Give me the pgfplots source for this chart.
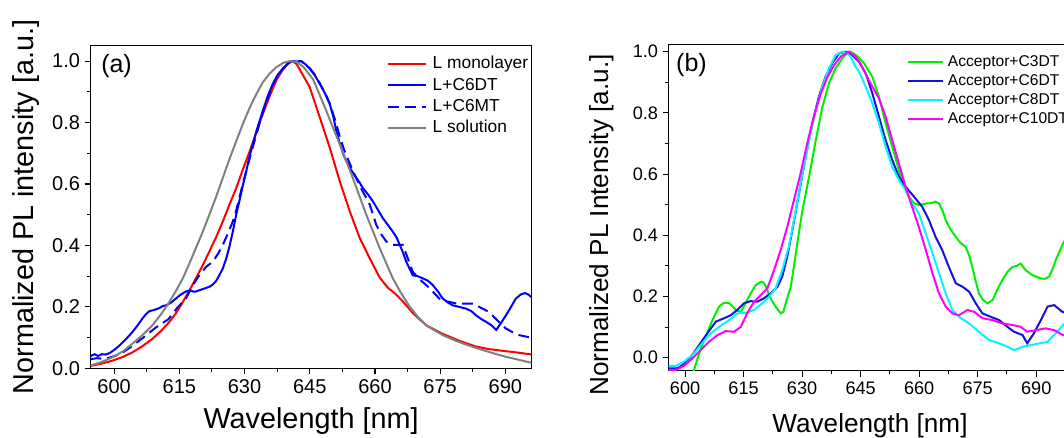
\documentclass[border=0pt]{standalone}
\usepackage{fontspec}
\setmainfont{Liberation Sans}
\usepackage{pgfplots}
\pgfplotsset{compat=1.18}
\definecolor{cgray}{RGB}{128,128,128}
\definecolor{cgreen}{RGB}{0,240,0}
\definecolor{cblue}{RGB}{20,20,215}
\definecolor{ccyan}{RGB}{0,245,255}
\definecolor{cmag}{RGB}{255,0,255}
\pgfplotsset{
 pl/.style={scale only axis, axis line style={line width=0.8pt}, tick pos=left, tick align=outside,
  major tick length=4.5pt, minor tick length=2.5pt, tick style={line width=0.8pt, black},
  /pgf/number format/assume math mode=true,
  yticklabel style={/pgf/number format/fixed,/pgf/number format/fixed zerofill,/pgf/number format/precision=1},
  xtick={600,615,...,690}, minor xtick={592.5,607.5,...,697.5},
  ytick={0,0.2,...,1.0}, minor ytick={0.1,0.3,...,0.9},
  legend cell align=left, clip=true},
}
\begin{document}
\begin{tikzpicture}
\useasboundingbox (0,0) rectangle (798pt,327.75pt);
\clip (0,0) rectangle (798pt,327.75pt);
% ---------------- panel (a)
\begin{axis}[pl, at={(68.0pt,51.5pt)}, anchor=south west, width=330.6pt, height=241.95pt,
 xmin=594.6, xmax=696, ymin=0, ymax=1.05,
 tick label style={font=\fontsize{15}{18}\selectfont},
 xlabel={Wavelength [nm]}, ylabel={Normalized PL intensity [a.u.]},
 label style={font=\fontsize{21.6}{26}\selectfont},
 xlabel style={at={(axis description cs:0.5,0)}, anchor=base, yshift=-45pt},
 ylabel style={at={(axis description cs:-0.1302,0.5)}, anchor=base},
 legend style={at={(axis description cs:0.6729,0.9702)}, anchor=north west, draw=none, fill=none,
  inner sep=0pt, outer sep=0pt, font=\fontsize{13}{15}\selectfont, row sep=3pt, column sep=4.3pt,
  nodes={inner sep=0pt, text height=10pt, text depth=3pt}},
 legend image code/.code={\draw[#1, line width=1.5pt] (0pt,0pt) -- (28.3pt,0pt);},
]
\addplot[red, line width=1.5pt] coordinates {
(594.6,0.008) (597,0.015) (599.6,0.025) (602,0.037) (604.2,0.052) (606.5,0.072) (608.8,0.096)
(610.8,0.122) (612.7,0.151) (614.3,0.181) (615.8,0.216) (617.3,0.253) (618.8,0.293) (620.4,0.336)
(621.9,0.380) (623.5,0.428) (625.0,0.478) (626.5,0.532) (628.1,0.587) (629.6,0.647) (631.2,0.707)
(632.7,0.768) (634.2,0.828) (635.8,0.887) (637.3,0.937) (638.8,0.972) (640.0,0.993) (641.0,1.0)
(642.0,0.99) (643.0,0.965) (645.0,0.915) (647.3,0.817) (649.6,0.718) (651.9,0.609) (654.2,0.511)
(656.5,0.424) (658.8,0.358) (661.1,0.295) (663.0,0.262) (664.5,0.245) (666.4,0.218) (668.7,0.18)
(671.8,0.14) (675.6,0.112) (679.5,0.089) (683,0.072) (686,0.063) (690,0.056) (693,0.051) (696,0.045)};
\addlegendentry{L monolayer}
\addplot[blue, line width=1.5pt] coordinates {
(594.6,0.040) (595.5,0.046) (596.3,0.040) (597.2,0.046) (598.1,0.045) (599.0,0.050) (600.2,0.062)
(601.2,0.074) (602.7,0.095) (604.2,0.118) (605.4,0.140) (606.5,0.162) (607.3,0.176) (608.1,0.186)
(609.2,0.190) (610.4,0.196) (611.2,0.203) (611.9,0.205) (613.0,0.213) (614.2,0.227) (615.3,0.240)
(616.5,0.250) (617.5,0.254) (618.2,0.250) (618.8,0.250) (620.0,0.256) (621.2,0.262) (622.0,0.266)
(622.7,0.273) (623.5,0.285) (624.2,0.303) (625.0,0.325) (625.8,0.358) (626.5,0.395) (627.3,0.445)
(628.0,0.495) (628.8,0.544) (629.6,0.595) (630.4,0.642) (631.1,0.688) (631.9,0.729) (633.0,0.785)
(634.2,0.838) (635.3,0.885) (636.5,0.926) (637.6,0.955) (638.8,0.975) (640.0,0.992) (641.0,1.0)
(642.0,0.998) (643.0,1.0) (644.0,0.99) (645.0,0.975) (646.2,0.953) (647.3,0.926) (648.5,0.895)
(649.6,0.860) (650.4,0.820) (651.1,0.773) (651.9,0.733) (652.7,0.697) (653.5,0.672) (654.2,0.653)
(655.0,0.635) (655.7,0.620) (656.5,0.604) (657.2,0.587) (658.4,0.566) (659.5,0.544) (660.6,0.518)
(661.8,0.489) (663.0,0.466) (664.1,0.445) (665.0,0.425) (665.7,0.402) (666.5,0.375) (667.2,0.347)
(668.0,0.323) (668.7,0.303) (669.8,0.300) (671.0,0.293) (672.2,0.285) (673.3,0.271) (674.5,0.250)
(675.6,0.227) (676.8,0.214) (677.9,0.205) (679.4,0.200) (681.0,0.194) (682.2,0.186) (683.3,0.172)
(684.5,0.160) (685.6,0.151) (686.8,0.140) (687.9,0.125) (689.0,0.148) (690.1,0.172) (691.3,0.200)
(692.4,0.227) (693.5,0.240) (694.5,0.245) (695.3,0.240) (696.0,0.232)};
\addlegendentry{L+C6DT}
\addplot[blue, line width=1.5pt, dash pattern=on 8pt off 4.5pt] coordinates {
(594.6,0.030) (596,0.033) (597.5,0.031) (599,0.035) (600.5,0.042) (602,0.052) (603.5,0.066)
(605,0.082) (606.5,0.098) (608,0.115) (609.5,0.132) (611.2,0.148) (612.5,0.160) (614.4,0.195)
(616.5,0.227) (618.3,0.275) (619.6,0.303) (621.2,0.331) (622.7,0.347) (624,0.375) (625.0,0.402)
(626.2,0.440) (627.3,0.478) (628.1,0.515) (628.8,0.555) (629.6,0.600) (630.4,0.642) (631.5,0.700)
(632.5,0.750) (633.5,0.800) (634.5,0.845) (635.5,0.885) (636.5,0.922) (637.6,0.953) (638.8,0.975)
(640.0,0.992) (641.0,1.0) (642.0,0.998) (643.0,1.0) (644.0,0.99) (645.0,0.977) (646.2,0.955)
(647.3,0.928) (648.5,0.897) (649.6,0.862) (650.8,0.810) (651.9,0.755) (652.8,0.715) (653.8,0.680)
(655.0,0.640) (656.0,0.610) (657.0,0.580) (658.0,0.555) (658.8,0.533) (660.3,0.467) (661.5,0.435)
(662.6,0.413) (664.1,0.402) (665.2,0.402) (666.4,0.402) (667.5,0.360) (668.7,0.314) (670.2,0.290)
(671.8,0.271) (673.3,0.250) (674.8,0.227) (676.5,0.218) (678.7,0.211) (680.5,0.211) (682.5,0.211)
(684.4,0.197) (686.3,0.183) (687.5,0.165) (688.6,0.150) (690.1,0.130) (691.7,0.117) (693.2,0.108)
(694.5,0.104) (696,0.100)};
\addlegendentry{L+C6MT}
\addplot[cgray, line width=1.5pt] coordinates {
(594.6,0.009) (597,0.02) (599.6,0.036) (602,0.055) (604.2,0.080) (606.5,0.108) (608.8,0.140)
(610.8,0.176) (612.7,0.216) (614.3,0.254) (615.8,0.293) (617.3,0.341) (618.8,0.391) (620.4,0.445)
(621.9,0.500) (623.5,0.560) (625.0,0.620) (626.5,0.680) (628.1,0.740) (629.6,0.795) (631.2,0.849)
(632.7,0.892) (634.2,0.931) (635.8,0.960) (637.3,0.980) (639,0.995) (640.5,1.0) (642,0.997)
(643.5,0.982) (645.8,0.94) (648.8,0.838) (651.9,0.729) (654.9,0.620) (658.0,0.500) (661.1,0.391)
(664.1,0.293) (666,0.245) (668.0,0.200) (670,0.165) (672,0.138) (675.6,0.108) (678,0.093)
(681,0.077) (684,0.063) (687,0.050) (690,0.038) (693,0.028) (696,0.018)};
\addlegendentry{L solution}
\node[anchor=west, inner sep=0pt, font=\fontsize{18.75}{22}\selectfont] at (axis description cs:0.0234,0.9386) {(a)};
\end{axis}
% ---------------- panel (b)
\begin{axis}[pl, at={(501.5pt,49.7pt)}, anchor=south west, width=302.0pt, height=245.0pt,
 xmin=595.8, xmax=699, ymin=-0.0425, ymax=1.025,
 tick label style={font=\fontsize{13.6}{16}\selectfont},
 xlabel={Wavelength [nm]}, ylabel={Normalized PL Intensity [a.u.]},
 label style={font=\fontsize{19.6}{24}\selectfont},
 xlabel style={at={(axis description cs:0.5,0)}, anchor=base, yshift=-46pt},
 ylabel style={at={(axis description cs:-0.1500,0.446)}, anchor=base},
 legend style={at={(axis description cs:0.5925,0.9678)}, anchor=north west, draw=none, fill=none,
  inner sep=0pt, outer sep=0pt, font=\fontsize{11.7}{14}\selectfont, row sep=2.55pt, column sep=3.2pt,
  nodes={inner sep=0pt, text height=9pt, text depth=2.7pt}},
 legend image code/.code={\draw[#1, line width=1.5pt] (0pt,0pt) -- (25.8pt,0pt);},
]
\addplot[cgreen, line width=1.5pt] coordinates {
(601.0,-0.09) (602.3,-0.040) (603.6,0.014) (605.3,0.069) (607.0,0.123) (608.7,0.167) (610.0,0.180)
(611.3,0.178) (612.2,0.168) (613.0,0.156) (614.3,0.150) (615.5,0.178) (616.8,0.210) (618.1,0.237)
(619.4,0.248) (620.2,0.245) (621.0,0.225) (621.5,0.205) (622.3,0.185) (623.2,0.167) (624.5,0.145)
(625.2,0.150) (625.8,0.178) (627.1,0.232) (627.8,0.290) (628.4,0.341) (629.2,0.410) (630.1,0.483)
(631.8,0.592) (633.5,0.711) (635.2,0.820) (636.9,0.897) (638.6,0.946) (640.3,0.978) (641.5,0.995)
(642.4,1.0) (643.3,0.993) (644.2,0.985) (645.9,0.962) (648.0,0.918) (649.7,0.853) (651.4,0.766)
(653.1,0.690) (654.8,0.613) (656.0,0.565) (657.4,0.526) (658.7,0.505) (660.0,0.499) (661.7,0.504)
(663.0,0.505) (664.2,0.510) (665.1,0.504) (666.0,0.480) (666.8,0.450) (668.0,0.420) (669.4,0.395)
(670.6,0.375) (671.9,0.363) (672.8,0.335) (673.6,0.297) (674.5,0.250) (675.3,0.210) (676.4,0.188)
(677.5,0.178) (678.8,0.188) (680.0,0.222) (681.3,0.254) (682.6,0.280) (683.9,0.297) (685.0,0.300)
(686.0,0.308) (687.3,0.286) (689.0,0.270) (691.2,0.259) (692.3,0.258) (693.3,0.265) (694.2,0.290)
(695.0,0.319) (696.9,0.374) (699,0.42)};
\addlegendentry{Acceptor+C3DT}
\addplot[cblue, line width=1.5pt] coordinates {
(595.8,-0.035) (597.6,-0.035) (598.5,-0.032) (599.3,-0.024) (601.5,0.003) (603.6,0.041) (605.7,0.080)
(607.9,0.118) (610.0,0.129) (611.7,0.139) (613.4,0.156) (615.1,0.178) (616.8,0.185) (618.5,0.183)
(620.2,0.194) (621.9,0.210) (623.7,0.232) (624.9,0.265) (626.2,0.330) (627.5,0.417) (629.2,0.537)
(630.9,0.657) (632.6,0.766) (634.3,0.853) (636.0,0.918) (637.7,0.962) (639.5,0.995) (641.2,1.0)
(642.9,0.989) (644.6,0.967) (646.3,0.929) (648.0,0.864) (649.7,0.788) (651.4,0.711) (653.1,0.646)
(654.8,0.592) (656.5,0.559) (658.7,0.526) (660.8,0.493) (662.5,0.450) (664.2,0.395) (665.9,0.352)
(667.6,0.297) (669.4,0.243) (671.1,0.232) (672.8,0.216) (674.5,0.178) (676.2,0.145) (677.9,0.136)
(680.5,0.123) (682.6,0.101) (684.3,0.085) (686.5,0.074) (687.7,0.047) (689.4,0.080) (691.2,0.123)
(692.9,0.167) (694.6,0.172) (696.7,0.150) (699,0.14)};
\addlegendentry{Acceptor+C6DT}
\addplot[ccyan, line width=1.5pt] coordinates {
(595.8,-0.027) (597.6,-0.027) (599.7,-0.013) (601.9,0.009) (604.0,0.041) (606.1,0.074) (608.7,0.101)
(611.3,0.123) (613.4,0.145) (615.5,0.147) (617.7,0.156) (619.8,0.178) (621.5,0.199) (623.2,0.227)
(624.9,0.286) (626.6,0.363) (628.4,0.483) (630.1,0.602) (631.8,0.711) (633.5,0.809) (635.2,0.886)
(636.9,0.946) (638.6,0.989) (640.3,1.0) (641.6,0.995) (642.4,0.984) (643.7,0.951) (644.6,0.935)
(646.3,0.886) (648.0,0.831) (649.7,0.766) (651.4,0.690) (653.1,0.624) (654.8,0.581) (656.5,0.548)
(658.2,0.504) (659.9,0.472) (661.7,0.406) (663.4,0.341) (665.1,0.276) (666.8,0.210) (668.5,0.156)
(670.2,0.134) (672.8,0.112) (675.3,0.085) (677.9,0.058) (680.5,0.047) (682.6,0.036) (684.3,0.025)
(686.5,0.036) (688.6,0.041) (690.8,0.047) (692.9,0.052) (695.0,0.080) (696.9,0.107) (699,0.13)};
\addlegendentry{Acceptor+C8DT}
\addplot[cmag, line width=1.5pt] coordinates {
(595.8,-0.040) (597.6,-0.040) (599.7,-0.027) (601.9,-0.002) (604.0,0.025) (606.1,0.052) (608.3,0.074)
(610.4,0.087) (612.6,0.085) (614.3,0.101) (615.9,0.145) (617.7,0.183) (619.4,0.205) (621.1,0.227)
(622.8,0.286) (624.5,0.352) (626.2,0.428) (627.9,0.515) (629.6,0.602) (631.3,0.700) (633.0,0.788)
(634.8,0.864) (636.5,0.918) (638.2,0.956) (639.9,0.984) (642.0,1.0) (643.7,0.985) (645.0,0.96)
(647.1,0.907) (649.7,0.847) (651.4,0.788) (653.1,0.711) (654.8,0.635) (656.5,0.559) (658.2,0.493)
(659.9,0.428) (661.7,0.352) (663.4,0.276) (665.1,0.210) (666.8,0.167) (668.5,0.145) (670.2,0.139)
(672.4,0.156) (674.1,0.150) (676.2,0.129) (678.8,0.123) (681.3,0.112) (683.9,0.107) (686.0,0.101)
(687.7,0.085) (689.9,0.090) (692.4,0.096) (694.6,0.090) (696.9,0.074) (699,0.065)};
\addlegendentry{Acceptor+C10DT}
\node[anchor=west, inner sep=0pt, font=\fontsize{18.75}{22}\selectfont] at (axis description cs:0.0181,0.9357) {(b)};
\end{axis}
\end{tikzpicture}
\end{document}
